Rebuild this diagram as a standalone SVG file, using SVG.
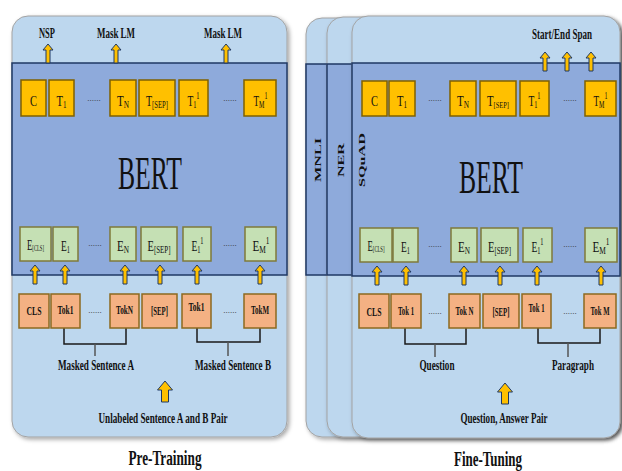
<svg xmlns="http://www.w3.org/2000/svg" xmlns:xlink="http://www.w3.org/1999/xlink" width="622" height="471" viewBox="0 0 622 471">
<style>
.panel{fill:#bdd7ee;stroke:#a3a3a3;stroke-width:1}
.band{fill:#8eaadb;stroke:#1f3864;stroke-width:1.5}
.tb{fill:#ffc000;stroke:#7f6000;stroke-width:1.5}
.eb{fill:#c5e0b4;stroke:#7f7a3a;stroke-width:1.5}
.kb{fill:#f4b183;stroke:#8c6a1f;stroke-width:1.5}
.arr{fill:#ffc000;stroke:#1f3864;stroke-width:1}
.brk{fill:none;stroke:#1a1a1a;stroke-width:1.5}
.stem{fill:none;stroke:#555;stroke-width:1.5}
text{font-family:"Liberation Serif","Times New Roman",serif;fill:#111;text-anchor:middle}
.bx{font-size:15px}
.tk{font-size:12px;font-weight:bold}
.lb{font-size:15px;font-weight:bold}
.sl{font-size:14px;font-weight:bold}
.dots{font-size:9px;fill:#333}
.side{font-size:9px;font-weight:bold}
.bert{font-size:47px}
.title{font-size:20px;font-weight:bold}
</style>
<defs>
<filter id="sh" x="-5%" y="-5%" width="112%" height="112%">
<feDropShadow dx="2" dy="2" stdDeviation="2" flood-color="#000" flood-opacity="0.35"/>
</filter>
<path id="a" class="arr" d="M0,0 L5,6 L2,6 L2,19 L-2,19 L-2,6 L-5,6 Z"/>
<path id="A" class="arr" d="M0,0 L7.5,9 L3.5,9 L3.5,21 L-3.5,21 L-3.5,9 L-7.5,9 Z"/>
</defs>

<!-- Left panel -->
<g id="pretrain-panel">
<rect class="panel" x="12" y="16" width="275" height="421" rx="16" filter="url(#sh)"/>
<rect class="band" x="12" y="63" width="275" height="212"/>
<text class="bert" x="150" y="189" textLength="64" lengthAdjust="spacingAndGlyphs">BERT</text>
</g>

<!-- Right panels -->
<g id="mnli-panel">
<rect class="panel" x="306" y="18" width="314" height="419" rx="16" filter="url(#sh)"/>
<rect class="band" x="306" y="64" width="314" height="211"/>
<text class="side" transform="translate(320.5,160) rotate(-90)" textLength="44" lengthAdjust="spacingAndGlyphs">MNLI</text>
</g>
<g id="ner-panel">
<rect class="panel" x="327" y="17" width="293" height="420" rx="16" filter="url(#sh)"/>
<rect class="band" x="327" y="64" width="293" height="211"/>
<text class="side" transform="translate(343.5,160) rotate(-90)" textLength="34" lengthAdjust="spacingAndGlyphs">NER</text>
</g>
<g id="squad-panel">
<rect class="panel" x="352" y="16" width="268" height="422" rx="16" filter="url(#sh)"/>
<rect class="band" x="352" y="63" width="268" height="213"/>
<text class="side" transform="translate(365,160) rotate(-90)" textLength="54" lengthAdjust="spacingAndGlyphs">SQuAD</text>
<text class="bert" x="491" y="193" textLength="64" lengthAdjust="spacingAndGlyphs">BERT</text>
</g>

<!-- Connectors -->
<g id="connectors">
<use xlink:href="#a" href="#a" x="48" y="44"/>
<use xlink:href="#a" href="#a" x="116" y="44"/>
<use xlink:href="#a" href="#a" x="226" y="44"/>
<use xlink:href="#a" href="#a" x="35" y="265"/>
<use xlink:href="#a" href="#a" x="65" y="265"/>
<use xlink:href="#a" href="#a" x="125" y="265"/>
<use xlink:href="#a" href="#a" x="160" y="265"/>
<use xlink:href="#a" href="#a" x="197" y="265"/>
<use xlink:href="#a" href="#a" x="260" y="265"/>
<use xlink:href="#A" href="#A" x="165" y="381"/>
<polyline class="brk" points="64,328 64,344 126,344 126,328"/>
<line class="stem" x1="95" y1="344" x2="95" y2="356"/>
<polyline class="brk" points="197,328 197,342 260,342 260,328"/>
<line class="stem" x1="228" y1="342" x2="228" y2="356"/>

<use xlink:href="#a" href="#a" x="545" y="52"/>
<use xlink:href="#a" href="#a" x="567" y="52"/>
<use xlink:href="#a" href="#a" x="591" y="52"/>
<use xlink:href="#a" href="#a" x="377" y="266"/>
<use xlink:href="#a" href="#a" x="406" y="266"/>
<use xlink:href="#a" href="#a" x="464" y="266"/>
<use xlink:href="#a" href="#a" x="500" y="266"/>
<use xlink:href="#a" href="#a" x="537" y="266"/>
<use xlink:href="#a" href="#a" x="601" y="266"/>
<use xlink:href="#A" href="#A" x="505" y="383"/>
<polyline class="brk" points="405,328 405,344 466,344 466,328"/>
<line class="stem" x1="435" y1="344" x2="435" y2="357"/>
<polyline class="brk" points="538,328 538,343 600,343 600,328"/>
<line class="stem" x1="568" y1="343" x2="568" y2="357"/>
</g>

<!-- Left T row -->
<g id="L-T-C"><rect class="tb" x="21" y="80" width="25" height="36"/><text class="bx" x="33.5" y="106" textLength="7" lengthAdjust="spacingAndGlyphs">C</text></g>
<g id="L-T-1"><rect class="tb" x="49" y="80" width="25" height="36"/><text class="bx" x="61.5" y="106" textLength="10" lengthAdjust="spacingAndGlyphs">T<tspan font-size="10" dy="2">1</tspan></text></g>
<text class="dots" x="94" y="101">......</text>
<g id="L-T-N"><rect class="tb" x="110" y="80" width="26" height="36"/><text class="bx" x="123" y="106" textLength="12" lengthAdjust="spacingAndGlyphs">T<tspan font-size="10" dy="2">N</tspan></text></g>
<g id="L-T-SEP"><rect class="tb" x="139" y="80" width="36" height="36"/><text class="bx" x="157" y="106" textLength="22" lengthAdjust="spacingAndGlyphs">T<tspan font-size="10" dy="2">[SEP]</tspan></text></g>
<g id="L-T-1b"><rect class="tb" x="179" y="80" width="29" height="36"/><text class="bx" x="193.5" y="106" textLength="12" lengthAdjust="spacingAndGlyphs">T<tspan font-size="10" dy="2">1</tspan><tspan font-size="10" dy="-9">1</tspan></text></g>
<text class="dots" x="230" y="101">......</text>
<g id="L-T-M"><rect class="tb" x="244" y="80" width="32" height="36"/><text class="bx" x="260.5" y="106" textLength="14" lengthAdjust="spacingAndGlyphs">T<tspan font-size="10" dy="2">M</tspan><tspan font-size="10" dy="-9">1</tspan></text></g>

<!-- Left E row -->
<g id="L-E-CLS"><rect class="eb" x="20" y="227" width="31" height="34"/><text class="bx" x="35.5" y="250" font-size="12" textLength="17" lengthAdjust="spacingAndGlyphs">E<tspan font-size="8" dy="1">[CLS]</tspan></text></g>
<g id="L-E-1"><rect class="eb" x="53" y="227" width="25" height="34"/><text class="bx" x="65.5" y="251" textLength="9" lengthAdjust="spacingAndGlyphs">E<tspan font-size="10" dy="2">1</tspan></text></g>
<text class="dots" x="95" y="246">......</text>
<g id="L-E-N"><rect class="eb" x="110" y="227" width="26" height="34"/><text class="bx" x="123" y="251" textLength="12" lengthAdjust="spacingAndGlyphs">E<tspan font-size="10" dy="2">N</tspan></text></g>
<g id="L-E-SEP"><rect class="eb" x="141" y="227" width="36" height="34"/><text class="bx" x="159" y="251" textLength="23" lengthAdjust="spacingAndGlyphs">E<tspan font-size="10" dy="2">[SEP]</tspan></text></g>
<g id="L-E-1b"><rect class="eb" x="183" y="227" width="28" height="34"/><text class="bx" x="197.5" y="251" textLength="12" lengthAdjust="spacingAndGlyphs">E<tspan font-size="10" dy="2">1</tspan><tspan font-size="10" dy="-9">1</tspan></text></g>
<text class="dots" x="230" y="246">......</text>
<g id="L-E-M"><rect class="eb" x="245" y="227" width="31" height="34"/><text class="bx" x="261" y="251" textLength="17" lengthAdjust="spacingAndGlyphs">E<tspan font-size="10" dy="2">M</tspan><tspan font-size="10" dy="-9">1</tspan></text></g>

<!-- Left Tok row -->
<g id="L-K-CLS"><rect class="kb" x="19" y="294" width="30" height="34"/><text class="tk" x="34" y="315" font-size="13" textLength="15" lengthAdjust="spacingAndGlyphs">CLS</text></g>
<g id="L-K-1"><rect class="kb" x="51" y="294" width="29" height="34"/><text class="tk" x="65.5" y="314" font-size="11" textLength="16" lengthAdjust="spacingAndGlyphs">Tok1</text></g>
<text class="dots" x="95" y="313">......</text>
<g id="L-K-N"><rect class="kb" x="110" y="294" width="29" height="34"/><text class="tk" x="124.5" y="314" font-size="11" textLength="17" lengthAdjust="spacingAndGlyphs">TokN</text></g>
<g id="L-K-SEP"><rect class="kb" x="142" y="294" width="35" height="34"/><text class="tk" x="159.5" y="315" font-size="13" textLength="17" lengthAdjust="spacingAndGlyphs">[SEP]</text></g>
<g id="L-K-1b"><rect class="kb" x="182" y="294" width="29" height="34"/><text class="tk" x="196.5" y="311" font-size="11" textLength="16" lengthAdjust="spacingAndGlyphs">Tok1</text></g>
<text class="dots" x="230" y="313">......</text>
<g id="L-K-M"><rect class="kb" x="244" y="294" width="32" height="34"/><text class="tk" x="260" y="314" font-size="11" textLength="18" lengthAdjust="spacingAndGlyphs">TokM</text></g>

<!-- Left labels -->
<g id="L-labels">
<text class="sl" x="47" y="38" textLength="16" lengthAdjust="spacingAndGlyphs">NSP</text>
<text class="sl" x="116" y="38" textLength="38" lengthAdjust="spacingAndGlyphs">Mask LM</text>
<text class="sl" x="223" y="38" textLength="38" lengthAdjust="spacingAndGlyphs">Mask LM</text>
<text class="lb" x="96" y="370" textLength="76" lengthAdjust="spacingAndGlyphs">Masked Sentence A</text>
<text class="lb" x="233" y="370" textLength="76" lengthAdjust="spacingAndGlyphs">Masked Sentence B</text>
<text class="lb" x="163" y="423" textLength="129" lengthAdjust="spacingAndGlyphs">Unlabeled Sentence A and B Pair</text>
<text class="title" x="165" y="465" textLength="73" lengthAdjust="spacingAndGlyphs">Pre-Training</text>
</g>

<!-- Right T row -->
<g id="R-T-C"><rect class="tb" x="362" y="81" width="25" height="35"/><text class="bx" x="374.5" y="106" textLength="7" lengthAdjust="spacingAndGlyphs">C</text></g>
<g id="R-T-1"><rect class="tb" x="389" y="81" width="26" height="35"/><text class="bx" x="402" y="106" textLength="10" lengthAdjust="spacingAndGlyphs">T<tspan font-size="10" dy="2">1</tspan></text></g>
<text class="dots" x="435" y="101">......</text>
<g id="R-T-N"><rect class="tb" x="450" y="81" width="26" height="35"/><text class="bx" x="463" y="106" textLength="12" lengthAdjust="spacingAndGlyphs">T<tspan font-size="10" dy="2">N</tspan></text></g>
<g id="R-T-SEP"><rect class="tb" x="480" y="81" width="36" height="35"/><text class="bx" x="498" y="106" textLength="22" lengthAdjust="spacingAndGlyphs">T<tspan font-size="9" dy="2">[SEP]</tspan></text></g>
<g id="R-T-1b"><rect class="tb" x="520" y="81" width="29" height="35"/><text class="bx" x="534.5" y="106" textLength="12" lengthAdjust="spacingAndGlyphs">T<tspan font-size="10" dy="2">1</tspan><tspan font-size="10" dy="-9">1</tspan></text></g>
<text class="dots" x="570" y="101">......</text>
<g id="R-T-M"><rect class="tb" x="585" y="81" width="31" height="35"/><text class="bx" x="600.5" y="106" textLength="14" lengthAdjust="spacingAndGlyphs">T<tspan font-size="10" dy="2">M</tspan><tspan font-size="10" dy="-9">1</tspan></text></g>

<!-- Right E row -->
<g id="R-E-CLS"><rect class="eb" x="360" y="228" width="32" height="34"/><text class="bx" x="376" y="251" font-size="12" textLength="17" lengthAdjust="spacingAndGlyphs">E<tspan font-size="8" dy="1">[CLS]</tspan></text></g>
<g id="R-E-1"><rect class="eb" x="393" y="228" width="25" height="34"/><text class="bx" x="405.5" y="252" textLength="9" lengthAdjust="spacingAndGlyphs">E<tspan font-size="10" dy="2">1</tspan></text></g>
<text class="dots" x="435" y="247">......</text>
<g id="R-E-N"><rect class="eb" x="451" y="228" width="26" height="34"/><text class="bx" x="464" y="252" textLength="12" lengthAdjust="spacingAndGlyphs">E<tspan font-size="10" dy="2">N</tspan></text></g>
<g id="R-E-SEP"><rect class="eb" x="481" y="228" width="37" height="34"/><text class="bx" x="499.5" y="252" textLength="23" lengthAdjust="spacingAndGlyphs">E<tspan font-size="10" dy="2">[SEP]</tspan></text></g>
<g id="R-E-1b"><rect class="eb" x="523" y="228" width="29" height="34"/><text class="bx" x="537.5" y="252" textLength="12" lengthAdjust="spacingAndGlyphs">E<tspan font-size="10" dy="2">1</tspan><tspan font-size="10" dy="-9">1</tspan></text></g>
<text class="dots" x="570" y="247">......</text>
<g id="R-E-M"><rect class="eb" x="585" y="228" width="32" height="34"/><text class="bx" x="601" y="252" textLength="17" lengthAdjust="spacingAndGlyphs">E<tspan font-size="10" dy="2">M</tspan><tspan font-size="10" dy="-9">1</tspan></text></g>

<!-- Right Tok row -->
<g id="R-K-CLS"><rect class="kb" x="359" y="294" width="30" height="34"/><text class="tk" x="374" y="316" font-size="13" textLength="15" lengthAdjust="spacingAndGlyphs">CLS</text></g>
<g id="R-K-1"><rect class="kb" x="391" y="294" width="30" height="34"/><text class="tk" x="406" y="315" font-size="11" textLength="16" lengthAdjust="spacingAndGlyphs">Tok 1</text></g>
<text class="dots" x="435" y="314">......</text>
<g id="R-K-N"><rect class="kb" x="449" y="294" width="31" height="34"/><text class="tk" x="464.5" y="315" font-size="11" textLength="18" lengthAdjust="spacingAndGlyphs">Tok N</text></g>
<g id="R-K-SEP"><rect class="kb" x="483" y="294" width="36" height="34"/><text class="tk" x="501" y="316" font-size="13" textLength="17" lengthAdjust="spacingAndGlyphs">[SEP]</text></g>
<g id="R-K-1b"><rect class="kb" x="522" y="294" width="29" height="34"/><text class="tk" x="536.5" y="312" font-size="11" textLength="16" lengthAdjust="spacingAndGlyphs">Tok 1</text></g>
<text class="dots" x="570" y="314">......</text>
<g id="R-K-M"><rect class="kb" x="584" y="294" width="32" height="34"/><text class="tk" x="600" y="315" font-size="11" textLength="19" lengthAdjust="spacingAndGlyphs">Tok M</text></g>

<!-- Right labels -->
<g id="R-labels">
<text class="sl" x="562" y="39" textLength="60" lengthAdjust="spacingAndGlyphs">Start/End Span</text>
<text class="lb" x="437" y="370" textLength="35" lengthAdjust="spacingAndGlyphs">Question</text>
<text class="lb" x="573" y="370" textLength="42" lengthAdjust="spacingAndGlyphs">Paragraph</text>
<text class="lb" x="504" y="423" textLength="87" lengthAdjust="spacingAndGlyphs">Question, Answer Pair</text>
<text class="title" x="488" y="466" textLength="68" lengthAdjust="spacingAndGlyphs">Fine-Tuning</text>
</g>
</svg>
